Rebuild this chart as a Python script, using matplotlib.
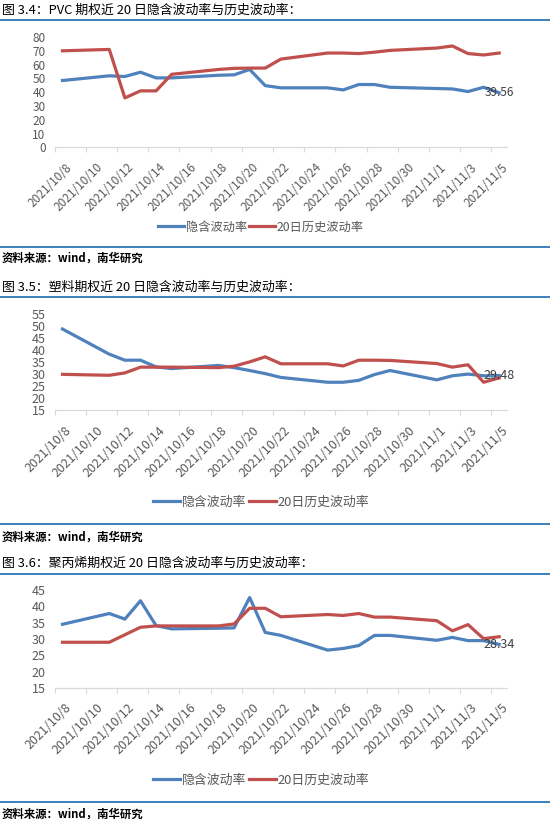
import matplotlib
matplotlib.use('Agg')
import matplotlib.pyplot as plt
import matplotlib.transforms as mtransforms
from matplotlib.lines import Line2D
import numpy as np
import pandas as pd

plt.rcParams['font.family'] = ['Noto Sans CJK SC', 'DejaVu Sans']

# trading days shown in all three charts
trade_dates = ['2021-10-08', '2021-10-11', '2021-10-12', '2021-10-13', '2021-10-14',
               '2021-10-15', '2021-10-18', '2021-10-19', '2021-10-20', '2021-10-21',
               '2021-10-22', '2021-10-25', '2021-10-26', '2021-10-27', '2021-10-28',
               '2021-10-29', '2021-11-01', '2021-11-02', '2021-11-03', '2021-11-04',
               '2021-11-05']

pvc_implied = [48.5, 51.9, 51.4, 54.5, 50.4, 50.4, 52.3, 52.6, 56.5, 44.8, 43.2,
               43.2, 41.7, 45.6, 45.6, 43.6, 42.7, 42.4, 40.5, 43.6, 39.56]
pvc_hist = [70.0, 71.0, 35.9, 41.0, 41.0, 53.0, 56.5, 57.3, 57.5, 57.5, 64.0,
            68.4, 68.4, 68.0, 69.0, 70.3, 72.0, 73.5, 68.0, 67.0, 68.4]

pe_implied = [48.9, 38.4, 35.9, 35.9, 33.1, 32.4, 33.7, 32.8, 31.6, 30.3, 28.7,
              26.7, 26.7, 27.5, 29.9, 31.6, 27.7, 29.4, 30.1, 29.4, 29.48]
pe_hist = [30.0, 29.6, 30.6, 33.0, 33.0, 33.0, 32.8, 33.4, 35.2, 37.3, 34.4,
           34.4, 33.5, 35.9, 35.9, 35.8, 34.5, 33.0, 34.0, 26.7, 28.5]

pp_implied = [34.5, 37.8, 36.1, 41.7, 34.1, 33.1, 33.3, 33.4, 42.7, 32.0, 31.1,
              26.6, 27.1, 28.0, 31.1, 31.1, 29.6, 30.5, 29.5, 29.5, 28.34]
pp_hist = [29.0, 29.0, 31.3, 33.6, 34.0, 34.0, 34.0, 34.6, 39.4, 39.4, 36.8,
           37.5, 37.2, 37.8, 36.7, 36.7, 35.6, 32.5, 34.4, 30.1, 30.7]

titles = ['图 3.4：PVC 期权近 20 日隐含波动率与历史波动率：',
          '图 3.5：塑料期权近 20 日隐含波动率与历史波动率：',
          '图 3.6：聚丙烯期权近 20 日隐含波动率与历史波动率：']
series_names = ['隐含波动率', '20日历史波动率']
source_text = '资料来源：wind，南华研究'
y_ticks = [list(range(0, 81, 10)), list(range(15, 56, 5)), list(range(15, 46, 5))]

start = pd.Timestamp('2021-10-08')
end = pd.Timestamp('2021-11-05')
x = (pd.to_datetime(trade_dates) - start).days.values
tick_days = pd.date_range(start, end, freq='2D')
tick_pos = (tick_days - start).days.values
tick_labels = [f'{d.year}/{d.month}/{d.day}' for d in tick_days]
n_days = (end - start).days + 1

BLUE = '#4F81BD'
RED = '#C0504D'
RULE = '#2E75B6'
GREY = '#595959'

W, H = 550, 822
fig = plt.figure(figsize=(W / 100, H / 100), dpi=100)


def fy(px):
    return 1 - px / H


def rule(ypx):
    fig.add_artist(Line2D([0, 1], [fy(ypx), fy(ypx)], transform=fig.transFigure,
                          color=RULE, lw=1.3))


# title y, rule y, axes top, axes bottom, legend y, separator y, footer y
layout = [
    (10, 20.5, 37, 147.5, 227, 246.7, 258),
    (287, 296.7, 314.4, 410.3, 502, 524.3, 536.7),
    (563.3, 574, 590, 688, 780, 801.7, 814),
]
fsizes = [8.5, 9, 9]
panels = [(pvc_implied, pvc_hist), (pe_implied, pe_hist), (pp_implied, pp_hist)]

for i, (implied, hist) in enumerate(panels):
    t_y, r_y, a_top, a_bot, l_y, s_y, f_y = layout[i]
    fs = fsizes[i]

    fig.text(2 / W, fy(t_y), titles[i], ha='left', va='center', fontsize=9.3,
             fontweight='medium', color='black')
    rule(r_y)

    ax = fig.add_axes([54.7 / W, fy(a_bot), (507 - 54.7) / W, (a_bot - a_top) / H])
    l1, = ax.plot(x, implied, color=BLUE, lw=2.3, solid_joinstyle='round')
    l2, = ax.plot(x, hist, color=RED, lw=2.3, solid_joinstyle='round')

    ax.set_xlim(-0.5, n_days - 0.5)
    ax.set_ylim(y_ticks[i][0], y_ticks[i][-1])
    ax.set_yticks(y_ticks[i])
    ax.tick_params(axis='y', length=0, pad=6.5, labelsize=fs, labelcolor=GREY)

    ax.set_xticks(tick_pos)
    ax.set_xticklabels(tick_labels)
    ax.set_xticks(np.arange(-0.5, n_days - 1, 2), minor=True)
    ax.tick_params(axis='x', which='major', length=0, pad=13, labelsize=fs, labelcolor=GREY)
    ax.tick_params(axis='x', which='minor', length=3.5, width=0.8, color='#d9d9d9')
    shift = mtransforms.ScaledTranslation(7 / 100, 0, fig.dpi_scale_trans)
    for lab in ax.get_xticklabels():
        lab.set_rotation(45)
        lab.set_ha('right')
        lab.set_va('center')
        lab.set_rotation_mode('anchor')
        lab.set_transform(lab.get_transform() + shift)

    for side in ['top', 'right', 'left']:
        ax.spines[side].set_visible(False)
    ax.spines['bottom'].set_color('#d9d9d9')
    ax.spines['bottom'].set_linewidth(0.9)

    ax.annotate(f'{implied[-1]:.2f}', (x[-1], implied[-1]), ha='center', va='center',
                fontsize=fs, color='#404040')

    fig.legend([l1, l2], series_names, loc='center', bbox_to_anchor=(261 / W, fy(l_y)),
               ncol=2, frameon=False, fontsize=fs + 0.3, handlelength=2.1,
               handletextpad=0.15, columnspacing=0.2, labelcolor=GREY)

    rule(s_y)
    fig.text(2 / W, fy(f_y), source_text, ha='left', va='center', fontsize=8.2,
             fontweight='bold', color='black')

fig.savefig('out.png', dpi=100)
